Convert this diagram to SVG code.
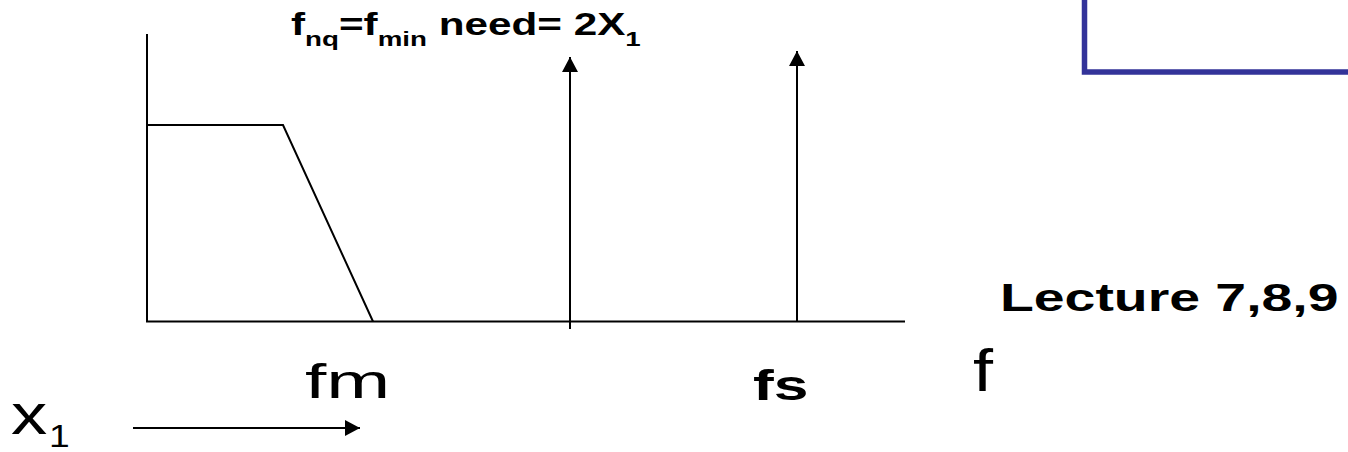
<svg xmlns="http://www.w3.org/2000/svg" width="1348" height="452" viewBox="0 0 1348 452">
<style>
.ln{stroke:#000;stroke-width:2;fill:none}
.t{font-family:"Liberation Sans",Arial,sans-serif;fill:#000}
.b{font-weight:bold}
</style>
<defs>
<marker id="ah" markerWidth="16" markerHeight="16" refX="15" refY="8" orient="auto" markerUnits="userSpaceOnUse">
<path d="M0,0 L15,8 L0,16 Z" fill="#000"/>
</marker>
</defs>
<rect width="1348" height="452" fill="#fff"/>
<g id="frame"><path d="M1084.5,-5 V72 H1353" fill="none" stroke="#333399" stroke-width="5.5"/></g>
<g id="axes">
<line class="ln" x1="147" y1="34" x2="147" y2="322"/>
<line class="ln" x1="146" y1="321.5" x2="905" y2="321.5"/>
</g>
<g id="spectrum"><polyline class="ln" points="147,125 283,125 373,321.5"/></g>
<g id="connectors">
<line class="ln" x1="570" y1="329" x2="570" y2="57" marker-end="url(#ah)"/>
<line class="ln" x1="797" y1="321.5" x2="797" y2="51" marker-end="url(#ah)"/>
<line class="ln" x1="133" y1="428" x2="360" y2="428" marker-end="url(#ah)"/>
</g>
<g id="title"><text class="t b" transform="translate(291,35) scale(1.32,1)" font-size="32">f<tspan font-size="21" dy="11">nq</tspan><tspan dy="-11">=f</tspan><tspan font-size="21" dy="11">min</tspan><tspan dy="-11"> need= 2X</tspan><tspan font-size="21" dy="11">1</tspan></text></g>
<g id="lecture"><text class="t b" transform="translate(1000,311) scale(1.42,1)" font-size="39">Lecture 7,8,9</text></g>
<g id="lbl-f"><text class="t" transform="translate(973,391) scale(1.2,1)" font-size="60">f</text></g>
<g id="lbl-fm"><text class="t" transform="translate(305,398) scale(1.6,1)" font-size="48">fm</text></g>
<g id="lbl-fs"><text class="t b" transform="translate(753,400) scale(1.45,1)" font-size="43">fs</text></g>
<g id="lbl-x1"><text class="t" transform="translate(11,434) scale(1.25,1)" font-size="58">x</text><text class="t" transform="translate(49,447) scale(1.2,1)" font-size="31">1</text></g>
</svg>
